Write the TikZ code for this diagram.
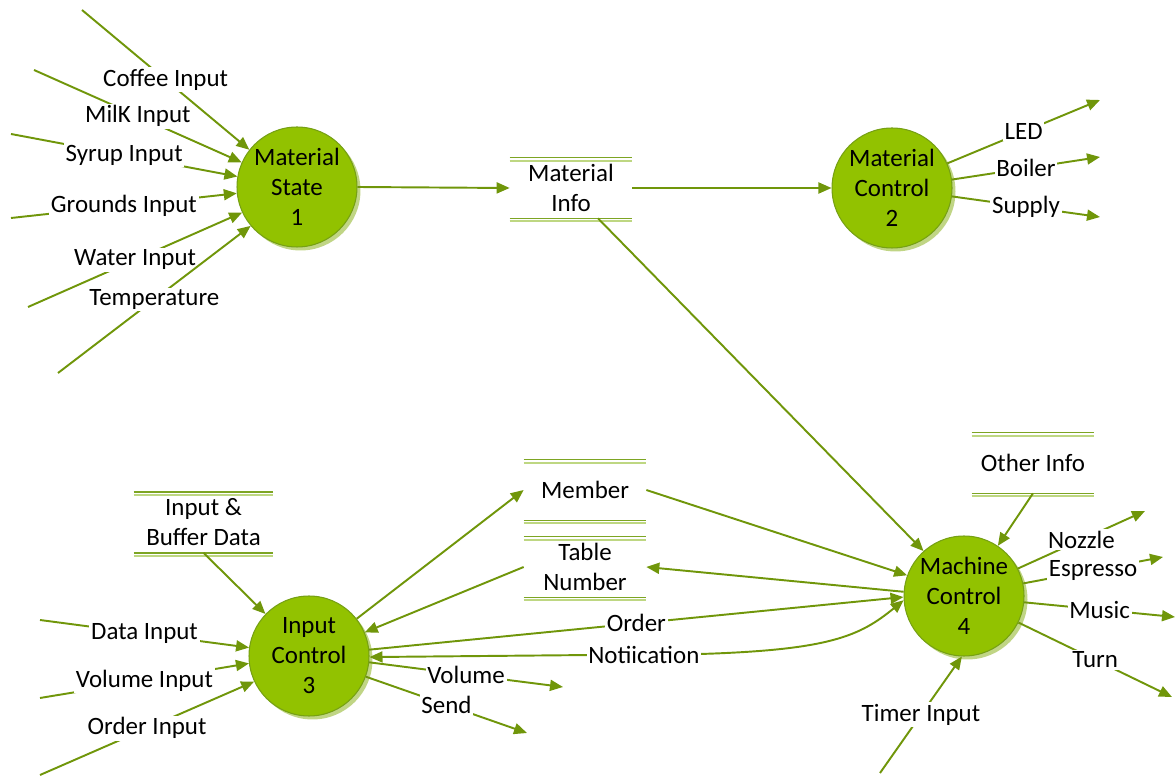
\documentclass[tikz,border=0pt]{standalone}
\usepackage{fontspec}
\setmainfont{Carlito}
\usetikzlibrary{arrows.meta,shadows,calc}
\definecolor{lnc}{RGB}{112,150,10}
\definecolor{bub}{RGB}{146,194,0}
\definecolor{bubedge}{RGB}{118,160,20}
\definecolor{shd}{RGB}{185,208,120}
\definecolor{stA}{RGB}{125,165,35}
\definecolor{stB}{RGB}{190,215,130}
\begin{document}
\begin{tikzpicture}[x=0.02cm,y=-0.02cm,
  every node/.style={font=\fontsize{14.2}{17.1}\selectfont},
  flow/.style={draw=lnc, line width=1.1pt, -{Triangle[length=0.26cm,width=0.22cm]}},
  flowboth/.style={draw=lnc, line width=1.1pt, {Triangle[length=0.26cm,width=0.22cm]}-{Triangle[length=0.26cm,width=0.22cm]}},
  proc/.style={circle, fill=bub, draw=bubedge, line width=0.6pt, minimum size=2.4cm, inner sep=0pt, align=center,
    drop shadow={shadow xshift=0.07cm, shadow yshift=-0.07cm, fill=shd, opacity=0.9}},
  store/.style={minimum width=2.44cm, minimum height=1.2cm, inner sep=0pt, align=center},
  lbl/.style={fill=white, inner sep=1pt}]
\useasboundingbox (0,0) rectangle (1176,776);

% processes
\node[proc] (ms) at (297,187) {Material\\State\\1};
\node[proc] (mc2) at (892,188) {Material\\Control\\2};
\node[proc] (ic) at (309,656) {Input\\Control\\3};
\node[proc] (mc) at (964,596) {Machine\\Control\\4};

% data stores
\node[store] (mi) at (571,188) {Material\\Info};
\node[store] (mem) at (585,490) {Member};
\node[store] (tn) at (585,567) {Table\\Number};
\node[store] (oi) at (1033,463) {Other Info};
\node[store, minimum width=2.78cm] (ibd) at (203.5,522.5) {Input \&\\Buffer Data};
\foreach \s in {mi,mem,tn,oi,ibd}{
  \draw[stA, line width=0.8pt] (\s.north west) -- (\s.north east);
  \draw[stB, line width=1pt] ($(\s.north west)+(0,3)$) -- ($(\s.north east)+(0,3)$);
  \draw[stA, line width=0.8pt] (\s.south west) -- (\s.south east);
  \draw[stB, line width=1pt] ($(\s.south west)+(0,3)$) -- ($(\s.south east)+(0,3)$);
}

% free ends
\coordinate (cofin) at (82,10);
\coordinate (milkin) at (34,70);
\coordinate (syrin) at (11,134);
\coordinate (grin) at (11,218);
\coordinate (watin) at (28,307);
\coordinate (tempin) at (58,373);
\coordinate (ledout) at (1100,100);
\coordinate (boilout) at (1100,157);
\coordinate (supout) at (1100,217);
\coordinate (datin) at (40,620);
\coordinate (volin) at (40,698);
\coordinate (ordin) at (40,775);
\coordinate (volout) at (563,687);
\coordinate (sendout) at (527,733);
\coordinate (nozout) at (1145,511);
\coordinate (espout) at (1163,557);
\coordinate (musout) at (1175,617);
\coordinate (turnout) at (1172,697);
\coordinate (timin) at (880,773);

% Material State inputs
\draw[flow] (cofin) -- node[lbl]{Coffee Input} (ms.142);
\draw[flow] (milkin) -- node[lbl]{MilK Input} (ms.156);
\draw[flow] (syrin) -- node[lbl]{Syrup Input} (ms.170);
\draw[flow] (grin) -- node[lbl]{Grounds Input} (ms.186);
\draw[flow] (watin) -- node[lbl]{Water Input} (ms.205);
\draw[flow] (tempin) -- node[lbl]{Temperature} (ms.220);

% material chain
\draw[flow] (ms.east) -- (mi.west);
\draw[flow] (mi.east) -- (mc2.west);
\draw[flow] ($(mi.south west)!0.72!(mi.south east)$) -- (mc.132);

% Material Control outputs
\draw[flow] (mc2.24) -- node[lbl]{LED} (ledout);
\draw[flow] (mc2.8) -- node[lbl]{Boiler} (boilout);
\draw[flow] (mc2.-8) -- node[lbl]{Supply} (supout);

% Input Control
\draw[flow] (ibd.south) -- (ic.136);
\draw[flow] (datin) -- node[lbl]{Data Input} (ic.172);
\draw[flow] (volin) -- node[lbl]{Volume Input} (ic.187);
\draw[flow] (ordin) -- node[lbl]{Order Input} (ic.205);
\draw[flow] (ic.38) -- (mem.west);
\draw[flow] (tn.west) -- (ic.23);
\draw[flow] (ic.6) -- node[lbl]{Order} (mc.181);
\draw[flowboth] (ic.-1) -- node[lbl,pos=0.83]{Notiication} (700,654) .. controls (830,650) and (860,636) .. (mc.184);
\draw[flow] (ic.-6) -- node[lbl]{Volume} (volout);
\draw[flow] (ic.-20) -- node[lbl]{Send} (sendout);

% Machine Control
\draw[flow] (mem.east) -- (mc.160);
\draw[flow] (mc.176) -- (tn.east);
\draw[flow] (oi.south) -- (mc.56);
\draw[flow] (mc.27) -- node[lbl]{Nozzle} (nozout);
\draw[flow] (mc.12) -- node[lbl]{Espresso} (espout);
\draw[flow] (mc.-6) -- node[lbl]{Music} (musout);
\draw[flow] (mc.-26) -- node[lbl]{Turn} (turnout);
\draw[flow] (timin) -- node[lbl]{Timer Input} (mc.-92);
\end{tikzpicture}
\end{document}
